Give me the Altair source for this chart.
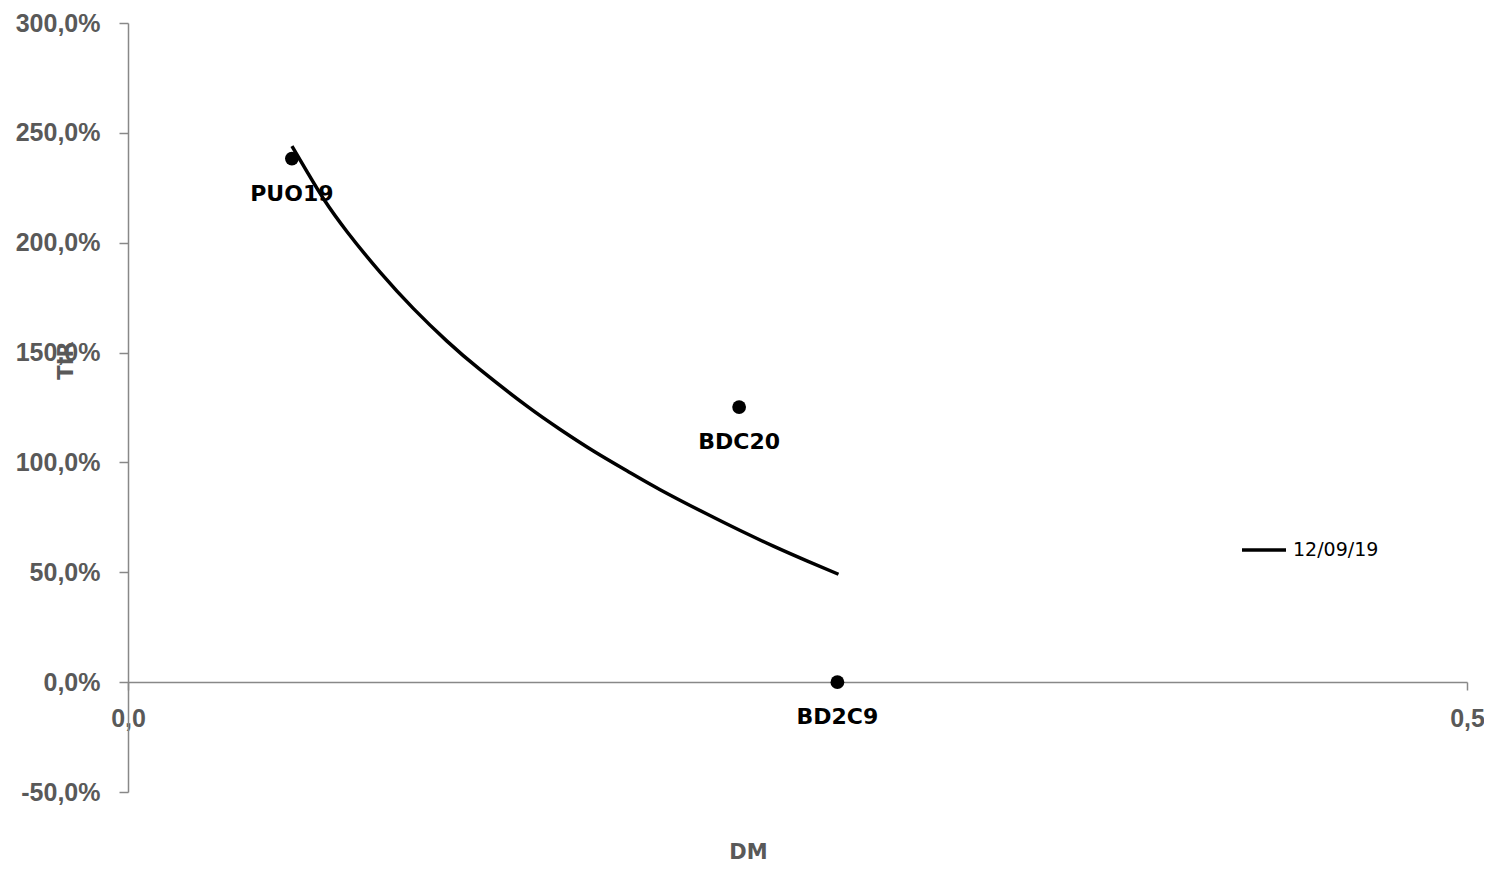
import altair as alt
import pandas as pd

# Curve (12/09/19)
curve_x = [0.0612, 0.0670, 0.0730, 0.0818, 0.0942, 0.1066, 0.1191, 0.1315, 0.1490,
           0.1614, 0.1738, 0.1863, 0.1987, 0.2162, 0.2286, 0.2410, 0.2535, 0.2653]
curve_y = [2.440, 2.320, 2.200, 2.050, 1.865, 1.700, 1.552, 1.422, 1.256,
           1.150, 1.052, 0.962, 0.876, 0.765, 0.690, 0.619, 0.552, 0.491]
series_name = "12/09/19"

# Bonds
bond_names = ["PUO19", "BDC20", "BD2C9"]
bond_x = [0.0612, 0.2282, 0.2649]
bond_y = [2.383, 1.252, 0.0]

# Axis ticks
x_ticks = [0.0, 0.5]
y_ticks = [-0.5, 0.0, 0.5, 1.0, 1.5, 2.0, 2.5, 3.0]

curve_df = pd.DataFrame({"DM": curve_x, "TIR": curve_y, "serie": [series_name] * len(curve_x)})
bond_df = pd.DataFrame({"name": bond_names, "DM": bond_x, "TIR": bond_y})

GRAY = "#595959"
AXIS_GRAY = "#888888"

x_scale = alt.Scale(domain=[0, 0.5], nice=False, zero=False)
y_scale = alt.Scale(domain=[-0.5, 3.0], nice=False, zero=False)

x_axis = alt.Axis(
    values=x_ticks, title="DM", offset=-110, grid=False, labelFlush=False,
    labelExpr="replace(format(datum.value, '.1f'), '.', ',')",
    labelFont="Liberation Sans", labelFontWeight="bold", labelFontSize=25, labelColor=GRAY,
    labelPadding=16, tickSize=8, tickColor=AXIS_GRAY, domainColor=AXIS_GRAY,
    tickWidth=1.5, domainWidth=1.5,
    titleFont="DejaVu Sans", titleFontWeight="bold", titleFontSize=21, titleColor=GRAY,
    titleX=620, titleY=170, titleAlign="center", titleBaseline="middle",
)
y_axis = alt.Axis(
    values=y_ticks, title="TIR", grid=False, labelFlush=False,
    labelExpr="replace(replace(format(datum.value, '.1%'), '.', ','), '\u2212', '-')",
    labelFont="Liberation Sans", labelFontWeight="bold", labelFontSize=25, labelColor=GRAY,
    labelPadding=19, tickSize=9, tickColor=AXIS_GRAY, domainColor=AXIS_GRAY,
    tickWidth=1.5, domainWidth=1.5,
    titleFont="DejaVu Sans", titleFontWeight="bold", titleFontSize=21, titleColor=GRAY,
    titleX=-62, titleY=337, titleAngle=270, titleAlign="center", titleBaseline="middle",
)

line = alt.Chart(curve_df).mark_line(strokeWidth=3.5, interpolate="natural").encode(
    x=alt.X("DM:Q", scale=x_scale, axis=x_axis),
    y=alt.Y("TIR:Q", scale=y_scale, axis=y_axis),
    color=alt.Color(
        "serie:N",
        scale=alt.Scale(domain=[series_name], range=["black"]),
        legend=alt.Legend(
            title=None, orient="none", legendX=1112, legendY=503,
            symbolType="stroke", symbolSize=1936, symbolStrokeWidth=3.5,
            labelFont="DejaVu Sans", labelFontSize=19, labelColor="black",
            labelOffset=5, padding=0,
        ),
    ),
)

points = alt.Chart(bond_df).mark_circle(size=190, color="black", opacity=1).encode(
    x=alt.X("DM:Q", scale=x_scale),
    y=alt.Y("TIR:Q", scale=y_scale),
)

labels = alt.Chart(bond_df).mark_text(
    dy=35, font="DejaVu Sans", fontWeight="bold", fontSize=22, color="black",
    align="center", baseline="middle",
).encode(
    x=alt.X("DM:Q", scale=x_scale),
    y=alt.Y("TIR:Q", scale=y_scale),
    text="name:N",
)

chart = alt.layer(line, points, labels).properties(
    width=1339, height=769,
    padding={"left": 120, "top": 15, "right": 17, "bottom": 70},
    autosize=alt.AutoSizeParams(type="none"),
    background="white",
).configure_view(strokeWidth=0)

chart.save("out.html", embed_options={"renderer": "svg", "actions": False})
